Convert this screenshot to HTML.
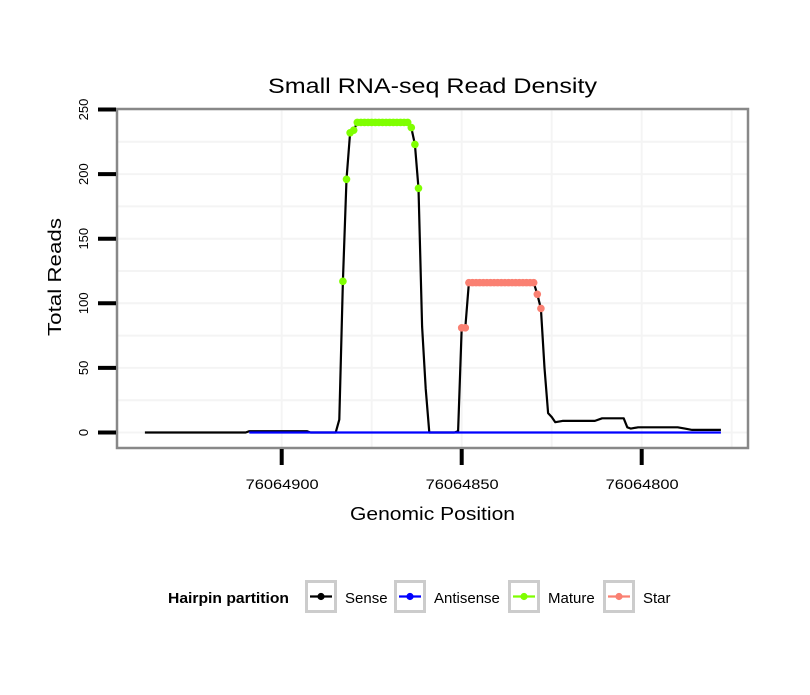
<!DOCTYPE html>
<html><head><meta charset="utf-8"><style>
body{margin:0;background:#fff;font-family:"Liberation Sans",sans-serif}
svg text{font-family:"Liberation Sans",sans-serif}
</style></head><body>
<svg width="810" height="690" xmlns="http://www.w3.org/2000/svg">
<g id="grid"></g>
<rect x="117" y="109" width="631" height="339" fill="none" stroke="#888" stroke-width="2.5"/>
<g id="marks"></g>
<g id="axes"></g>
<text x="268" y="93" font-size="21" textLength="329" lengthAdjust="spacingAndGlyphs">Small RNA-seq Read Density</text>
<text x="0" y="0" font-size="18" textLength="118" lengthAdjust="spacingAndGlyphs" transform="translate(61,336) rotate(-90)">Total Reads</text>
<text x="350" y="520" font-size="18" textLength="165" lengthAdjust="spacingAndGlyphs">Genomic Position</text>
<g>
<text x="168" y="603" font-size="15" font-weight="bold" textLength="121" lengthAdjust="spacingAndGlyphs">Hairpin partition</text>
<g id="legend"></g>
</g>
</svg>
<script>
const B = 76064938;
const senseOffset = [0,28,29,45,46,53,54,55,56,57,58,59,73,74,75,76,77,78,79,86,87,88,89,90,108,109,110,111,112,113,114,116,125,127,133,134,135,137,148,150,152,160];
const senseVal    = [0,0,1,1,0,0,10,117,196,232,234,240,240,236,223,189,82,34,0,0,1,81,81,116,116,107,96,50,15,12,8,9,9,11,11,4,3,4,4,3,2,2];
const antisenseOffset = [29,160];
const antisenseVal = [0,0];
const matureOffset = [55,56,57,58,59,60,61,62,63,64,65,66,67,68,69,70,71,72,73,74,75,76];
const matureVal    = [117,196,232,234,240,240,240,240,240,240,240,240,240,240,240,240,240,240,240,236,223,189];
const starOffset = [88,89,90,91,92,93,94,95,96,97,98,99,100,101,102,103,104,105,106,107,108,109,110];
const starVal    = [81,81,116,116,116,116,116,116,116,116,116,116,116,116,116,116,116,116,116,116,116,107,96];
const yTicks = [0,50,100,150,200,250];
const xTicks = [76064900,76064850,76064800];
const xMinor = [76064875,76064825,76064775];
const yMinor = [25,75,125,175,225];
const legendLabels = ["Sense","Antisense","Mature","Star"];
const legendColors = ["#000","#0000ff","#7fff00","#fa8072"];

const xs = p => 281.7 + (76064900 - p) * 3.6;
const ys = v => 432.5 - v * 1.292;
const NS = "http://www.w3.org/2000/svg";
function mk(tag, attrs, parent){const e=document.createElementNS(NS,tag);for(const k in attrs)e.setAttribute(k,attrs[k]);parent.appendChild(e);return e;}
const grid=document.getElementById('grid'), marks=document.getElementById('marks'), axes=document.getElementById('axes'), leg=document.getElementById('legend');

yTicks.concat(yMinor).forEach(v=>{const l=mk('line',{x1:118,x2:747,y1:ys(v),y2:ys(v),stroke:'#f4f4f4','stroke-width':2},grid);

});
xTicks.concat(xMinor).forEach(p=>{const l=mk('line',{x1:xs(p),x2:xs(p),y1:110,y2:447,stroke:'#f4f4f4','stroke-width':2},grid);

});

function path(offs, vals, color, name){
  const d=offs.map((o,i)=>(i?'L':'M')+xs(B-o).toFixed(1)+','+ys(vals[i]).toFixed(1)).join('');
  const p=mk('path',{d:d,fill:'none',stroke:color,'stroke-width':2.2,'stroke-linejoin':'round'},marks);
  
  
}
function dots(offs, vals, color, name){
  offs.forEach((o,i)=>{const c=mk('circle',{cx:xs(B-o),cy:ys(vals[i]),r:3.8,fill:color},marks);
  
  });
}
path(senseOffset, senseVal, '#000', 'sense-line');
path(antisenseOffset, antisenseVal, '#0000ff', 'antisense-line');
dots(matureOffset, matureVal, '#7fff00', 'mature-point');
dots(starOffset, starVal, '#fa8072', 'star-point');

yTicks.forEach(v=>{
  const l=mk('line',{x1:98,x2:116,y1:ys(v),y2:ys(v),stroke:'#000','stroke-width':4},axes);
  
  
  const t=mk('text',{transform:`translate(88,${ys(v)}) rotate(-90)`,'font-size':13,'text-anchor':'middle'},axes);
  t.textContent=v;
  
  
});
xTicks.forEach(p=>{
  const l=mk('line',{x1:xs(p),x2:xs(p),y1:449,y2:465,stroke:'#000','stroke-width':4},axes);
  
  
  const t=mk('text',{x:xs(p)-36,y:489,'font-size':14,textLength:73,lengthAdjust:'spacingAndGlyphs'},axes);
  t.textContent=p;
  
  
});
const boxX=[305,394,508,603];
legendLabels.forEach((lab,i)=>{
  const g=mk('g',{},leg);
  
  
  mk('rect',{x:boxX[i]+1.5,y:581.5,width:29,height:30,fill:'#fff',stroke:'#ccc','stroke-width':3},g);
  mk('line',{x1:boxX[i]+5,x2:boxX[i]+27,y1:596.5,y2:596.5,stroke:legendColors[i],'stroke-width':2.2},g);
  mk('circle',{cx:boxX[i]+16,cy:596.5,r:3.6,fill:legendColors[i]},g);
  const t=mk('text',{x:boxX[i]+40,y:603,'font-size':15},g);
  t.textContent=lab;
});
</script>
</body></html>
